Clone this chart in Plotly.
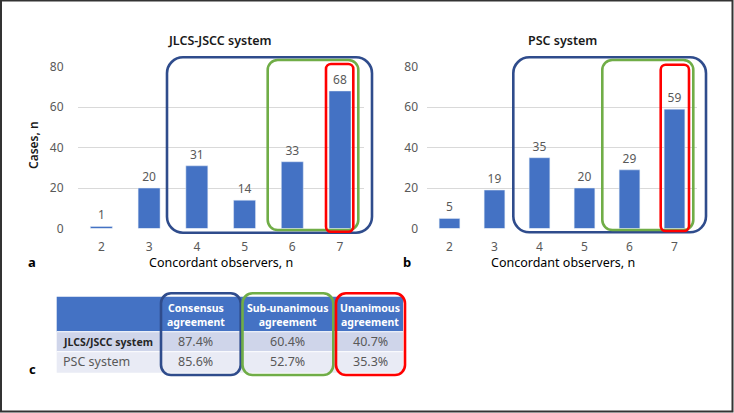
import plotly.graph_objects as go

W, H = 734, 413

# ---- data ----
observers = [2, 3, 4, 5, 6, 7]
jlcs_cases = [1, 20, 31, 14, 33, 68]
psc_cases = [5, 19, 35, 20, 29, 59]
y_ticks = [0, 20, 40, 60, 80]

table_header = ["", "Consensus<br>agreement", "Sub-unanimous<br>agreement", "Unanimous<br>agreement"]
table_rows = ["JLCS/JSCC system", "PSC system"]
consensus = ["87.4%", "85.6%"]
sub_unanimous = ["60.4%", "52.7%"]
unanimous = ["40.7%", "35.3%"]

BAR = "#4472C4"
NAVY = "#2F4C8C"
GREEN = "#70AD47"
RED = "#FF0000"
FONT = "Noto Sans"
GRAY = "#595959"


def px(x):
    return x / W


def py(y):
    return 1 - y / H


def rrect(x0, y0, x1, y1, r, color, width=2.6):
    k = 0.5523 * r
    pts = [
        f"M{px(x0 + r)},{py(y0)}",
        f"L{px(x1 - r)},{py(y0)}",
        f"C{px(x1 - r + k)},{py(y0)} {px(x1)},{py(y0 + r - k)} {px(x1)},{py(y0 + r)}",
        f"L{px(x1)},{py(y1 - r)}",
        f"C{px(x1)},{py(y1 - r + k)} {px(x1 - r + k)},{py(y1)} {px(x1 - r)},{py(y1)}",
        f"L{px(x0 + r)},{py(y1)}",
        f"C{px(x0 + r - k)},{py(y1)} {px(x0)},{py(y1 - r + k)} {px(x0)},{py(y1 - r)}",
        f"L{px(x0)},{py(y0 + r)}",
        f"C{px(x0)},{py(y0 + r - k)} {px(x0 + r - k)},{py(y0)} {px(x0 + r)},{py(y0)}",
        "Z",
    ]
    return dict(type="path", path=" ".join(pts), xref="paper", yref="paper",
                line=dict(color=color, width=width), fillcolor="rgba(0,0,0,0)", layer="above")


fig = go.Figure()
fig.add_trace(go.Bar(x=observers, y=jlcs_cases, marker_color=BAR, text=jlcs_cases,
                     textposition="outside", cliponaxis=False,
                     textfont=dict(color=GRAY, size=12, family=FONT),
                     xaxis="x", yaxis="y", width=0.46, showlegend=False, hoverinfo="skip"))
fig.add_trace(go.Bar(x=observers, y=psc_cases, marker_color=BAR, text=psc_cases,
                     textposition="outside", cliponaxis=False,
                     textfont=dict(color=GRAY, size=12, family=FONT),
                     xaxis="x2", yaxis="y2", width=0.46, showlegend=False, hoverinfo="skip"))

y_dom = [py(228.5), py(66.7)]
common_x = dict(range=[1.5, 7.5], tickmode="array", tickvals=observers, showgrid=False,
                zeroline=False, showline=False, ticks="", ticklabelstandoff=9, automargin=False,
                tickfont=dict(color=GRAY, size=12, family=FONT))
common_y = dict(range=[0, 80], tickvals=y_ticks, showgrid=True, gridcolor="#D9D9D9",
                gridwidth=1, zeroline=False, showline=False, ticks="",
                automargin=False, tickfont=dict(color=GRAY, size=12, family=FONT))

fig.update_layout(
    width=W, height=H, margin=dict(l=0, r=0, t=0, b=0, pad=0, autoexpand=False),
    paper_bgcolor="white", plot_bgcolor="white",
    xaxis=dict(domain=[px(77.5), px(363.9)], anchor="y", **common_x),
    yaxis=dict(domain=y_dom, anchor="x", ticklabelstandoff=13, **common_y),
    xaxis2=dict(domain=[px(427), px(697)], anchor="y2", **common_x),
    yaxis2=dict(domain=y_dom, anchor="x2", ticklabelstandoff=8, **common_y),
    font=dict(family=FONT),
)

shapes = []
# panel boxes
shapes.append(rrect(167, 57.3, 372, 232.7, 16, NAVY))
shapes.append(rrect(267.7, 60, 358.3, 230, 10, GREEN))
shapes.append(rrect(326, 64, 353.3, 231.7, 5, RED))
shapes.append(rrect(513.3, 57.3, 706, 232.3, 16, NAVY))
shapes.append(rrect(602.3, 60, 693.3, 230, 10, GREEN))
shapes.append(rrect(660.7, 64.7, 689, 231, 5, RED))

# table backgrounds
tx0, tx1 = 56.7, 403
row_bounds = [(296.7, 331.7, "#4472C4"), (331.7, 351.7, "#CFD5EA"), (351.7, 372.7, "#E9EBF5")]
for (a, b, c) in row_bounds:
    shapes.append(dict(type="rect", xref="paper", yref="paper", x0=px(tx0), x1=px(tx1),
                       y0=py(b), y1=py(a), fillcolor=c, line=dict(width=0), layer="below"))
shapes.append(dict(type="line", xref="paper", yref="paper", x0=px(tx0), x1=px(tx1),
                   y0=py(331.7), y1=py(331.7), line=dict(color="white", width=1)))
shapes.append(dict(type="line", xref="paper", yref="paper", x0=px(tx0), x1=px(tx1),
                   y0=py(351.7), y1=py(351.7), line=dict(color="white", width=1)))
# table boxes
shapes.append(rrect(161, 293.3, 240.7, 375, 10, NAVY))
shapes.append(rrect(242.5, 293.3, 333.3, 375, 10, GREEN))
shapes.append(rrect(336, 293.3, 405, 375, 10, RED))
# frame
shapes.append(dict(type="rect", xref="paper", yref="paper", x0=px(1), x1=px(732.5),
                   y0=py(411.5), y1=py(0.5), line=dict(color="#333333", width=2),
                   fillcolor="rgba(0,0,0,0)"))

annots = []


def ann(x, y, text, size=12, color="#000000", xanchor="center", angle=0, weight="normal"):
    annots.append(dict(x=px(x), y=py(y), xref="paper", yref="paper", text=text,
                       showarrow=False, xanchor=xanchor, yanchor="middle", textangle=angle,
                       font=dict(size=size, color=color, family=FONT, weight=weight)))


ann(220, 40, "JLCS-JSCC system", size=12.5, color="#1a1a1a", weight=600)
ann(562.7, 40, "PSC system", size=12.5, color="#1a1a1a", weight=600)
ann(33, 145, "Cases, n", size=12, color="#1a1a1a", angle=-90, weight=600)
ann(221, 262, "Concordant observers, n", size=12.5, color="#000000")
ann(563, 262, "Concordant observers, n", size=12.5, color="#000000")
ann(32, 262, "a", size=13, weight="bold")
ann(407, 262, "b", size=13, weight="bold")
ann(32, 369, "c", size=13, weight="bold")

# table text
col_centers = [None, 195.5, 287, 370]
for i in range(1, 4):
    ann(col_centers[i], 314.5, table_header[i], size=10.5, color="white", weight="bold")
row_y = [341.7, 361.7]
ann(60.7, row_y[0], table_rows[0], size=10.5, color="#262626", xanchor="left", weight="bold")
ann(60.7, row_y[1], table_rows[1], size=12.5, color=GRAY, xanchor="left")
for r in range(2):
    ann(col_centers[1], row_y[r], consensus[r], size=12.5, color=GRAY)
    ann(col_centers[2], row_y[r], sub_unanimous[r], size=12.5, color=GRAY)
    ann(col_centers[3], row_y[r], unanimous[r], size=12.5, color=GRAY)

fig.update_layout(shapes=shapes, annotations=annots, hovermode=False)
post = ("document.documentElement.style.margin='0';document.body.style.margin='0';"
        "document.body.style.padding='0';document.body.style.overflow='hidden';"
        "var d=document.getElementById('{plot_id}');d.style.position='absolute';"
        "d.style.left='0px';d.style.top='0px';")
fig.write_html("out.html", config={"displayModeBar": False, "staticPlot": True}, post_script=post)
